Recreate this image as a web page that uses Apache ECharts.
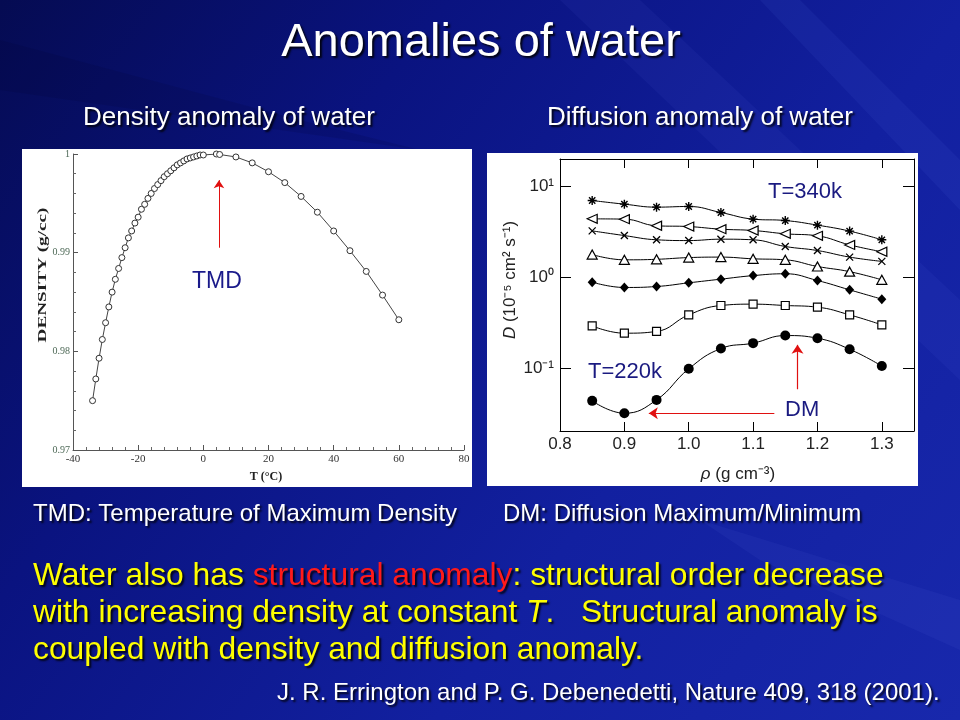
<!DOCTYPE html>
<html><head><meta charset="utf-8">
<script src="https://cdn.jsdelivr.net/npm/echarts@6/dist/echarts.min.js"></script>
<style>html,body{margin:0;padding:0;background:#0b1580}#c{width:960px;height:720px}</style>
</head><body><div id="c"></div>
<script>
// ---- Density anomaly (left) ----
const densityT = [-34,-33,-32,-31,-30,-29,-28,-27,-26,-25,-24,-23,-22,-21,-20,-19,-18,-17,-16,-15,-14,-13,-12,-11,-10,-9,-8,-7,-6,-5,-4,-3,-2,-1,0,4,5,10,15,20,25,30,35,40,45,50,55,60];
const densityVals = [0.9750,0.9772,0.9793,0.9812,0.9829,0.9845,0.9860,0.9873,0.9884,0.9895,0.9905,0.9915,0.9922,0.9930,0.9936,0.9944,0.9949,0.9955,0.9960,0.9965,0.9969,0.9973,0.9977,0.9980,0.9983,0.9986,0.9989,0.9991,0.9993,0.9995,0.9996,0.9997,0.9998,0.9999,0.9999,1.0000,0.99995,0.9997,0.9991,0.9982,0.9971,0.9957,0.9941,0.9922,0.9902,0.9881,0.9857,0.9832];
const densityXTicks = [-40,-20,0,20,40,60,80];
const densityYTicks = [0.97,0.98,0.99,1];

// ---- Diffusion anomaly (right) ----
const rho = [0.85,0.90,0.95,1.00,1.05,1.10,1.15,1.20,1.25,1.30];
const D_asterisk = [6.93,6.32,5.86,5.96,5.12,4.33,4.18,3.72,3.20,2.57];   // T=340k
const D_leftTri  = [4.36,4.33,3.66,3.59,3.36,3.25,2.99,2.84,2.26,1.90];
const D_cross    = [3.22,2.86,2.57,2.52,2.61,2.57,2.17,1.96,1.66,1.49];
const D_upTri    = [1.77,1.55,1.57,1.64,1.66,1.59,1.55,1.31,1.15,0.935];
const D_diamond  = [0.882,0.771,0.790,0.867,0.951,1.04,1.09,0.919,0.726,0.574];
const D_square   = [0.292,0.243,0.254,0.386,0.489,0.506,0.489,0.469,0.386,0.300];
const D_circle   = [0.0440,0.0322,0.0451,0.0988,0.165,0.189,0.229,0.214,0.162,0.106]; // T=220k
const rhoTicks = [0.8,0.9,1.0,1.1,1.2,1.3];
const dDecades = [0.1,1,10];

const pairs = (xs, ys) => xs.map((x, i) => [x, ys[i]]);
const supMap = {'-1':'⁻¹','0':'⁰','1':'¹'};

const chart = echarts.init(document.getElementById('c'), null, {renderer:'canvas'});
const sans = '"Liberation Sans", Arial, sans-serif';
const serif = '"Liberation Serif", "Times New Roman", serif';
const shadow = {textShadowColor:'rgba(0,0,0,0.85)', textShadowBlur:2, textShadowOffsetX:2, textShadowOffsetY:2};

function txt(x, y, text, font, fill, align, extra) {
  return {
    type:'text', x:x, y:y, z:50,
    style: Object.assign({text:text, font:font, fill:fill, align:align||'left', textAlign:align||'left',
      verticalAlign:'middle', textVerticalAlign:'middle'}, extra||{})
  };
}

const rightSeriesBase = {
  type:'line', xAxisIndex:1, yAxisIndex:1, smooth:0.45, silent:true,
  lineStyle:{color:'#000', width:1}, emphasis:{disabled:true}
};

const pf = '31.8px ' + sans;

const option = {
  animation:false,
  backgroundColor:{type:'linear', x:0, y:0, x2:1, y2:1, colorStops:[
    {offset:0, color:'#050b52'},{offset:0.3, color:'#0a1380'},{offset:0.65, color:'#1220a0'},{offset:1, color:'#1828ac'}]},
  grid:[
    {left:73, top:154, width:391, height:296},
    {left:560, top:159, width:354, height:272}
  ],
  xAxis:[
    {type:'value', gridIndex:0, min:densityXTicks[0], max:densityXTicks[densityXTicks.length-1], interval:20,
     axisLine:{onZero:false, lineStyle:{color:'#555', width:1}},
     axisTick:{inside:true, length:5, lineStyle:{color:'#555'}},
     minorTick:{show:true, splitNumber:5, length:3, lineStyle:{color:'#666'}},
     splitLine:{show:false},
     axisLabel:{color:'#333', fontFamily:serif, fontSize:11, margin:4}},
    {type:'value', gridIndex:1, min:rhoTicks[0], max:1.35, interval:0.1,
     axisLine:{onZero:false, lineStyle:{color:'#000', width:1}},
     axisTick:{inside:true, length:9, lineStyle:{color:'#000'}},
     splitLine:{show:false},
     axisLabel:{color:'#222', fontFamily:sans, fontSize:17, margin:5, showMaxLabel:false,
       formatter:v => v.toFixed(1)}},
    {type:'value', gridIndex:1, position:'top', min:rhoTicks[0], max:1.35, interval:0.1,
     axisLine:{onZero:false, lineStyle:{color:'#000', width:1}},
     axisTick:{inside:true, length:9, lineStyle:{color:'#000'}},
     splitLine:{show:false}, axisLabel:{show:false}}
  ],
  yAxis:[
    {type:'value', gridIndex:0, min:densityYTicks[0], max:densityYTicks[densityYTicks.length-1], interval:0.01,
     axisLine:{onZero:false, lineStyle:{color:'#555', width:1}},
     axisTick:{inside:true, length:5, lineStyle:{color:'#555'}},
     minorTick:{show:true, splitNumber:5, length:3, lineStyle:{color:'#666'}},
     splitLine:{show:false},
     axisLabel:{color:'#4f6a58', fontFamily:serif, fontSize:10, margin:3}},
    {type:'log', gridIndex:1, min:Math.pow(10,-1.687), max:Math.pow(10,1.296),
     axisLine:{onZero:false, lineStyle:{color:'#000', width:1}},
     axisTick:{inside:true, length:11, lineStyle:{color:'#000'}},
     splitLine:{show:false}, minorTick:{show:false},
     axisLabel:{color:'#222', fontFamily:sans, fontSize:17, margin:6, showMinLabel:false, showMaxLabel:false,
       formatter:v => {const l = Math.log10(v); const n = Math.round(l);
         if (Math.abs(l-n) > 1e-6 || !dDecades.some(d => Math.abs(Math.log10(d)-n) < 1e-6)) return '';
         return '10' + supMap[String(n)];}}},
    {type:'log', gridIndex:1, position:'right', min:Math.pow(10,-1.687), max:Math.pow(10,1.296),
     axisLine:{onZero:false, lineStyle:{color:'#000', width:1}},
     axisTick:{inside:true, length:11, lineStyle:{color:'#000'}},
     splitLine:{show:false}, axisLabel:{show:false}}
  ],
  series:[
    {type:'line', xAxisIndex:0, yAxisIndex:0, data:pairs(densityT, densityVals), silent:true,
     symbol:'circle', symbolSize:6, itemStyle:{color:'#fff', borderColor:'#333', borderWidth:1},
     lineStyle:{color:'#444', width:1}, emphasis:{disabled:true},
     markLine:{silent:true, animation:false, symbol:['none','arrow'], symbolSize:8,
       label:{show:false}, lineStyle:{color:'#e01010', width:1, type:'solid'},
       data:[[{coord:[4.8,0.9905]},{coord:[4.8,0.99735]}]]}},
    Object.assign({}, rightSeriesBase, {name:'asterisk', data:pairs(rho, D_asterisk),
      symbol:'path://M5,0L5,10M0,5L10,5M1.5,1.5L8.5,8.5M1.5,8.5L8.5,1.5', symbolSize:9,
      itemStyle:{color:'#000', borderColor:'#000', borderWidth:1.4}}),
    Object.assign({}, rightSeriesBase, {name:'leftTri', data:pairs(rho, D_leftTri),
      symbol:'path://M0,5L10,0L10,10Z', symbolSize:[10,9],
      itemStyle:{color:'#fff', borderColor:'#000', borderWidth:1.2}}),
    Object.assign({}, rightSeriesBase, {name:'cross', data:pairs(rho, D_cross),
      symbol:'path://M0,0L10,10M0,10L10,0', symbolSize:7,
      itemStyle:{color:'#000', borderColor:'#000', borderWidth:1.3}}),
    Object.assign({}, rightSeriesBase, {name:'upTri', data:pairs(rho, D_upTri),
      symbol:'triangle', symbolSize:[10,9],
      itemStyle:{color:'#fff', borderColor:'#000', borderWidth:1.2}}),
    Object.assign({}, rightSeriesBase, {name:'diamond', data:pairs(rho, D_diamond),
      symbol:'diamond', symbolSize:[9,10], itemStyle:{color:'#000'}}),
    Object.assign({}, rightSeriesBase, {name:'square', data:pairs(rho, D_square),
      symbol:'rect', symbolSize:8,
      itemStyle:{color:'#fff', borderColor:'#000', borderWidth:1.2}}),
    Object.assign({}, rightSeriesBase, {name:'circle', data:pairs(rho, D_circle),
      symbol:'circle', symbolSize:10, itemStyle:{color:'#000'},
      markLine:{silent:true, animation:false, symbol:['none','arrow'], symbolSize:9,
        label:{show:false}, lineStyle:{color:'#e01010', width:1.2, type:'solid'},
        data:[[{coord:[1.133,0.0322]},{coord:[0.938,0.0322]}],
              [{coord:[1.169,0.059]},{coord:[1.169,0.181]}]]}})
  ],
  graphic:{elements:[
    // background streaks
    {type:'polygon', z:-20, shape:{points:[[560,0],[640,0],[960,300],[960,380]]}, style:{fill:'rgba(120,140,255,0.06)'}},
    {type:'polygon', z:-20, shape:{points:[[760,0],[800,0],[960,160],[960,210]]}, style:{fill:'rgba(120,140,255,0.07)'}},
    {type:'polygon', z:-20, shape:{points:[[0,40],[0,90],[420,150],[300,120]]}, style:{fill:'rgba(0,0,40,0.12)'}},
    {type:'polygon', z:-20, shape:{points:[[700,520],[960,600],[960,650],[760,560]]}, style:{fill:'rgba(140,160,255,0.06)'}},
    // white panels
    {type:'rect', z:-10, shape:{x:22, y:149, width:450, height:338}, style:{fill:'#fff'}},
    {type:'rect', z:-10, shape:{x:487, y:153, width:431, height:333}, style:{fill:'#fff'}},
    // titles
    txt(481, 43, 'Anomalies of water', '47px ' + sans, '#fff', 'center', shadow),
    txt(229, 118, 'Density anomaly of water', '26px ' + sans, '#fff', 'center', shadow),
    txt(700, 118, 'Diffusion anomaly of water', '26px ' + sans, '#fff', 'center', shadow),
    // left chart annotations
    txt(43, 275, 'DENSITY (g/cc)', 'bold 12px ' + serif, '#222', 'center', {}),
    txt(266, 477, 'T (°C)', 'bold 12px ' + serif, '#222', 'center', {}),
    txt(192, 282, 'TMD', '23px ' + sans, '#1a1a8a', 'left', {}),
    // right chart annotations
    txt(738, 474, '{i|ρ} (g cm⁻³)', '17px ' + sans, '#222', 'center',
        {rich:{i:{fontStyle:'italic', font:'italic 17px ' + sans, fill:'#222'}}}),
    txt(510, 280, '{i|D} (10⁻⁵ cm² s⁻¹)', '17px ' + sans, '#222', 'center',
        {rich:{i:{fontStyle:'italic', font:'italic 17px ' + sans, fill:'#222'}}}),
    txt(768, 192, 'T=340k', '22px ' + sans, '#1a1a80', 'left', {}),
    txt(588, 372, 'T=220k', '22px ' + sans, '#1a1a80', 'left', {}),
    txt(785, 410, 'DM', '22px ' + sans, '#1a1a80', 'left', {}),
    // captions
    txt(33, 514, 'TMD: Temperature of Maximum Density', '24px ' + sans, '#fff', 'left', shadow),
    txt(503, 514, 'DM: Diffusion Maximum/Minimum', '24px ' + sans, '#fff', 'left', shadow),
    txt(33, 576, '{y|Water also has }{r|structural anomaly}{y|: structural order decrease}', pf, '#ffff00', 'left',
        Object.assign({rich:{y:{fill:'#ffff00', font:pf}, r:{fill:'#ff1a1a', font:pf}}}, shadow)),
    txt(33, 613, '{y|with increasing density at constant }{i|T}{y|.   Structural anomaly is}', pf, '#ffff00', 'left',
        Object.assign({rich:{y:{fill:'#ffff00', font:pf}, i:{fill:'#ffff00', font:'italic ' + pf}}}, shadow)),
    txt(33, 650, 'coupled with density and diffusion anomaly.', pf, '#ffff00', 'left', shadow),
    txt(277, 693, 'J. R. Errington and P. G. Debenedetti, Nature 409, 318 (2001).', '24px ' + sans, '#fff', 'left', shadow)
  ]}
};
// rotate/scale axis-name texts
option.graphic.elements.forEach(e => {
  if (e.style && typeof e.style.text === 'string') {
    if (e.style.text === 'DENSITY (g/cc)') { e.rotation = Math.PI/2; e.scaleX = 1.6; }
    if (e.style.text.indexOf('{i|D}') === 0) { e.rotation = Math.PI/2; }
  }
});
chart.setOption(option);
</script></body></html>
